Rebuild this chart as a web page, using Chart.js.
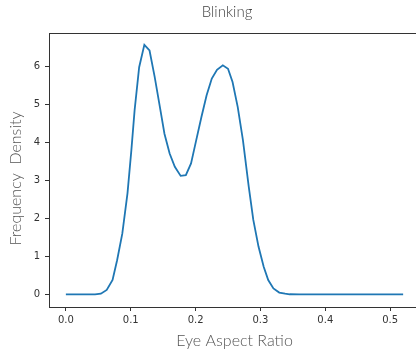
<!DOCTYPE html>
<html>
<head>
<meta charset="utf-8">
<script src="https://cdn.jsdelivr.net/npm/chart.js@4"></script>
<style>
    html, body { margin: 0; padding: 0; background: #fff; overflow: hidden; width: 416px; height: 354px; }
    canvas { display: block; }
</style>
</head>
<body>
<canvas id="densityChart" width="454" height="354"></canvas>
<script>
// ==============================
//  DATA
// ==============================
const earValues = [
    0.000, 0.045, 0.054, 0.063, 0.072, 0.079, 0.087, 0.095, 0.101, 0.106,
    0.113, 0.121, 0.129, 0.137, 0.145, 0.152, 0.160, 0.168, 0.177, 0.185,
    0.193, 0.201, 0.209, 0.217, 0.225, 0.233, 0.242, 0.250, 0.257, 0.265,
    0.273, 0.282, 0.289, 0.297, 0.305, 0.312, 0.320, 0.329, 0.338, 0.345,
    0.360, 0.520
];
const densityValues = [
    0.00, 0.00, 0.02, 0.12, 0.38, 0.90, 1.60, 2.66, 3.80, 4.85,
    5.98, 6.57, 6.42, 5.72, 4.93, 4.23, 3.71, 3.36, 3.12, 3.14,
    3.45, 4.06, 4.67, 5.24, 5.68, 5.91, 6.03, 5.94, 5.59, 4.93,
    4.06, 2.83, 1.96, 1.26, 0.73, 0.38, 0.16, 0.05, 0.02, 0.005,
    0.00, 0.00
];
const xTicks = [0.0, 0.1, 0.2, 0.3, 0.4, 0.5];
const yTicks = [0, 1, 2, 3, 4, 5, 6];

const points = earValues.map((x, i) => ({ x: x, y: densityValues[i] }));

// frame round the plot + title centred over the axes
const framePlugin = {
    id: "frame",
    afterDraw(chart) {
        const { ctx, chartArea: a } = chart;
        ctx.save();
        ctx.strokeStyle = "#333";
        ctx.lineWidth = 1;
        ctx.strokeRect(a.left + 0.5, a.top + 0.5, a.right - a.left, a.bottom - a.top);

        ctx.fillStyle = "#444";
        ctx.font = "300 15px Lato";
        ctx.textAlign = "center";
        ctx.textBaseline = "middle";
        ctx.fillText("Blinking", 227, 12);
        ctx.restore();
    }
};

const tickFont = { family: "DejaVu Sans", size: 10 };
const labelFont = { family: "Lato", size: 16, weight: 300 };

new Chart(document.getElementById("densityChart").getContext("2d"), {
    type: "line",
    data: {
        datasets: [{
            data: points,
            borderColor: "#1f77b4",
            borderWidth: 1.8,
            pointRadius: 0,
            tension: 0,
            fill: false
        }]
    },
    options: {
        responsive: false,
        animation: false,
        devicePixelRatio: 1,
        layout: { padding: { left: 0, right: 34, top: 33, bottom: 0 } },
        plugins: {
            legend: { display: false },
            tooltip: { enabled: false },
            title: { display: false }
        },
        scales: {
            x: {
                type: "linear",
                min: -0.026,
                max: 0.546,
                afterBuildTicks: s => { s.ticks = xTicks.map(v => ({ value: v })); },
                afterFit: s => { s.height = 47; },
                ticks: {
                    autoSkip: false,
                    maxRotation: 0,
                    color: "#333",
                    font: tickFont,
                    padding: 3,
                    callback: v => Number(v).toFixed(1)
                },
                grid: { drawOnChartArea: false, drawTicks: true, tickLength: 4, color: "#333" },
                border: { display: true, color: "#333" },
                title: { display: true, text: "Eye Aspect Ratio", color: "#555", font: labelFont, padding: { top: 0, bottom: 4 } }
            },
            y: {
                type: "linear",
                min: -0.33,
                max: 6.88,
                afterBuildTicks: s => { s.ticks = yTicks.map(v => ({ value: v })); },
                afterFit: s => { s.width = 49; },
                ticks: {
                    color: "#333",
                    font: tickFont,
                    padding: 5,
                    callback: v => String(v)
                },
                grid: { drawOnChartArea: false, drawTicks: true, tickLength: 4, color: "#333" },
                border: { display: true, color: "#333" },
                title: {
                    display: true,
                    text: "Frequency  Density\u00a0\u00a0\u00a0\u00a0",
                    color: "#555",
                    font: labelFont,
                    padding: { top: 6, bottom: 0 }
                }
            }
        }
    },
    plugins: [framePlugin]
});
</script>
</body>
</html>
